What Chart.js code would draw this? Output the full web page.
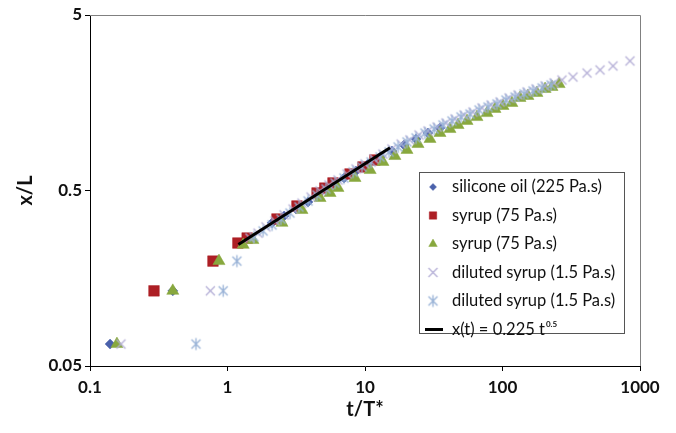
<!DOCTYPE html>
<html>
<head>
<meta charset="utf-8">
<script src="https://cdn.jsdelivr.net/npm/chart.js@4.4.1/dist/chart.umd.min.js"></script>
<style>
html,body{margin:0;padding:0;background:#fff;}
#wrap{width:676px;height:433px;}
</style>
</head>
<body>
<div id="wrap"><canvas id="c" width="676" height="433"></canvas></div>
<script>
// ---- data (t/T*, x/L) ----
const xTickValues = [0.1, 1, 10, 100, 1000];
const yTickValues = [0.05, 0.5, 5];

const seriesNames = [
  'silicone oil (225 Pa.s)',
  'syrup (75 Pa.s)',
  'syrup (75 Pa.s)',
  'diluted syrup (1.5 Pa.s)',
  'diluted syrup (1.5 Pa.s)'
];
const fitName = 'x(t) = 0.225 t';
const fitExponentLabel = '0.5';

const siliconeT = [0.14, 0.40, 2.11, 2.58, 3.15, 3.85, 4.71, 5.75, 7.04, 8.60, 10.5, 12.9, 15.7, 19.2, 23.5, 28.7, 35.1];
const siliconeX = [0.0667, 0.134, 0.327, 0.358, 0.392, 0.430, 0.490, 0.537, 0.589, 0.646, 0.708, 0.776, 0.840, 0.908, 0.983, 1.063, 1.135];

const syrupAT = [0.292, 0.784, 1.19, 1.39, 2.29, 3.20, 4.48, 5.10, 5.85, 7.78, 9.67, 11.8];
const syrupAX = [0.134, 0.198, 0.251, 0.268, 0.344, 0.408, 0.484, 0.516, 0.552, 0.621, 0.681, 0.746];

const syrupBT = [0.157, 0.40, 0.867, 1.30, 1.53, 2.49, 3.48, 4.71, 5.57, 6.36, 8.46, 10.9, 13.5, 16.5, 20.2, 24.3, 29.7, 35.1, 41.5, 47.5, 55.2, 65.2, 77.2, 88.2, 100.8, 117, 134, 153, 178, 204, 229, 258];
const syrupBX = [0.0667, 0.134, 0.198, 0.245, 0.261, 0.327, 0.387, 0.453, 0.484, 0.517, 0.589, 0.654, 0.727, 0.786, 0.851, 0.920, 0.983, 1.063, 1.12, 1.18, 1.245, 1.31, 1.38, 1.457, 1.515, 1.576, 1.683, 1.728, 1.798, 1.894, 1.944, 2.02];

const dilutedAT = [0.168, 0.75, 1.457, 1.667, 1.905, 2.216, 2.576, 2.995, 3.48, 4.05, 4.71, 5.47, 6.36, 7.40, 8.60, 10.0, 11.63, 13.5, 15.7, 18.3, 21.2, 24.7, 28.7, 33.4, 38.8, 45.1, 52.5, 61.0, 70.9, 82.5, 95.9, 111.5, 129.6, 150.7, 175.2, 203.8, 236.9, 270.8, 325.6, 411.8, 511.8, 636, 845.6];
const dilutedAX = [0.0667, 0.134, 0.268, 0.286, 0.310, 0.335, 0.363, 0.392, 0.424, 0.459, 0.497, 0.537, 0.574, 0.621, 0.663, 0.708, 0.756, 0.807, 0.862, 0.920, 0.970, 1.036, 1.091, 1.150, 1.212, 1.278, 1.346, 1.400, 1.476, 1.535, 1.597, 1.683, 1.751, 1.821, 1.894, 1.970, 2.049, 2.131, 2.216, 2.336, 2.430, 2.561, 2.735];

const dilutedBT = [0.59, 0.93, 1.17, 1.558, 1.813, 2.107, 2.449, 2.848, 3.311, 3.850, 4.476, 5.204, 6.050, 7.035, 8.180, 9.51, 11.06, 12.86, 14.95, 17.38, 20.2, 23.5, 27.3, 31.8, 36.9, 42.9, 49.9, 58.0, 67.5, 78.4, 91.2, 106.0, 123.3, 143.3, 166.6, 193.8, 225.3];
const dilutedBX = [0.0667, 0.134, 0.198, 0.272, 0.294, 0.318, 0.344, 0.372, 0.403, 0.436, 0.471, 0.510, 0.552, 0.589, 0.637, 0.681, 0.727, 0.776, 0.829, 0.885, 0.945, 0.996, 1.063, 1.120, 1.181, 1.245, 1.312, 1.364, 1.438, 1.495, 1.556, 1.639, 1.705, 1.774, 1.845, 1.919, 1.996];

const fitT = [1.2, 15.2];
const fitX = [0.246, 0.877];

// ---- styles ----
const pts = (ts, xs) => ts.map((t, i) => ({x: t, y: xs[i]}));

function markerCanvas(color, r, withVertical) {
  const s = Math.ceil(2 * r + 3);
  const c = document.createElement('canvas');
  c.width = s; c.height = s;
  const g = c.getContext('2d');
  const m = s / 2;
  g.strokeStyle = color; g.lineWidth = 1.3; g.lineCap = 'butt';
  const d = r * 0.75;
  g.beginPath();
  g.moveTo(m - d, m - d); g.lineTo(m + d, m + d);
  g.moveTo(m - d, m + d); g.lineTo(m + d, m - d);
  if (withVertical) { g.moveTo(m, m - r); g.lineTo(m, m + r); }
  g.stroke();
  return c;
}
const crossImg = markerCanvas('#b4aed6', 6, false);
const starImg = markerCanvas('#97b1d6', 6, true);

const styles = [
  {pointStyle: 'rectRot', radius: 5, bg: '#4a61ab', border: '#4a61ab', order: 5},
  {pointStyle: 'rect', radius: 7.5, bg: '#ad1f25', border: '#ad1f25', order: 4},
  {pointStyle: 'triangle', radius: 7, bg: '#88a83e', border: '#88a83e', order: 3},
  {pointStyle: crossImg, radius: 6, bg: '#b4aed6', border: '#b4aed6', order: 2},
  {pointStyle: starImg, radius: 6, bg: '#97b1d6', border: '#97b1d6', order: 1}
];
const seriesData = [pts(siliconeT, siliconeX), pts(syrupAT, syrupAX), pts(syrupBT, syrupBX), pts(dilutedAT, dilutedAX), pts(dilutedBT, dilutedBX)];

const datasets = seriesData.map((d, i) => ({
  type: 'scatter',
  label: seriesNames[i],
  data: d,
  pointStyle: styles[i].pointStyle,
  pointRadius: styles[i].radius,
  pointBackgroundColor: styles[i].bg,
  pointBorderColor: styles[i].border,
  pointBorderWidth: 0.5,
  showLine: false,
  order: styles[i].order
}));
datasets.push({
  type: 'line',
  label: fitName,
  data: pts(fitT, fitX),
  borderColor: '#000',
  borderWidth: 3,
  pointRadius: 0,
  fill: false,
  order: 0
});

const legendPlugin = {
  id: 'boxLegend',
  afterDraw(chart) {
    const ctx = chart.ctx;
    ctx.save();
    const bx = 419.5, by = 172.5, bw = 205, bh = 161;
    ctx.fillStyle = '#fff';
    ctx.fillRect(bx, by, bw, bh);
    ctx.strokeStyle = '#555';
    ctx.lineWidth = 1;
    ctx.strokeRect(bx, by, bw, bh);
    const mx = 433, tx = 452, y0 = 187, dy = 28.5;
    ctx.font = '16.5px Lato';
    ctx.textBaseline = 'middle';
    ctx.textAlign = 'left';
    for (let i = 0; i < seriesNames.length; i++) {
      const y = y0 + i * dy;
      const st = styles[i];
      ctx.fillStyle = st.bg; ctx.strokeStyle = st.border; ctx.lineWidth = 0.5;
      const r = typeof st.pointStyle === 'string' ? st.radius * 0.7 : st.radius * 0.85;
      Chart.helpers.drawPoint(ctx, {pointStyle: st.pointStyle, radius: r, rotation: 0, borderWidth: 0.5}, mx, y);
      ctx.fillStyle = '#111';
      ctx.fillText(seriesNames[i], tx, y);
    }
    const yl = y0 + seriesNames.length * dy;
    ctx.strokeStyle = '#000'; ctx.lineWidth = 3;
    ctx.beginPath(); ctx.moveTo(425, yl); ctx.lineTo(443, yl); ctx.stroke();
    ctx.fillStyle = '#111';
    ctx.fillText(fitName, tx, yl);
    const w = ctx.measureText(fitName).width;
    ctx.font = 'bold 8px Lato';
    ctx.fillText(fitExponentLabel, tx + w + 1, yl - 5);
    // plot area top & right border
    const a = chart.chartArea;
    ctx.strokeStyle = '#808080'; ctx.lineWidth = 1;
    ctx.beginPath();
    ctx.moveTo(a.left, a.top + 0.5); ctx.lineTo(a.right + 0.5, a.top + 0.5); ctx.lineTo(a.right + 0.5, a.bottom);
    ctx.stroke();
    ctx.restore();
  }
};

const bgPlugin = {
  id: 'bg',
  beforeDraw(chart) {
    const ctx = chart.ctx;
    ctx.save(); ctx.fillStyle = '#fff'; ctx.fillRect(0, 0, chart.width, chart.height); ctx.restore();
  }
};

new Chart(document.getElementById('c'), {
  data: {datasets},
  options: {
    responsive: false,
    animation: false,
    events: [],
    layout: {padding: {top: 15, right: 36, left: 0, bottom: 0}},
    plugins: {legend: {display: false}, tooltip: {enabled: false}},
    scales: {
      x: {
        type: 'logarithmic',
        min: 0.1, max: 1000,
        afterBuildTicks: s => { s.ticks = xTickValues.map(v => ({value: v})); },
        afterFit: s => { s.height = 67; },
        ticks: {
          autoSkip: false, maxRotation: 0, padding: 6,
          color: '#111',
          font: {family: 'Lato', size: 17, weight: 'bold'},
          callback: v => String(v)
        },
        grid: {display: true, drawOnChartArea: false, drawTicks: true, tickLength: 5, color: '#000'},
        border: {display: true, color: '#000', width: 1},
        title: {display: true, text: 't/T*', color: '#111', font: {family: 'Lato', size: 20, weight: 'bold'}, padding: {top: 0, bottom: 11}}
      },
      y: {
        type: 'logarithmic',
        min: 0.05, max: 5,
        afterBuildTicks: s => { s.ticks = yTickValues.map(v => ({value: v})); },
        afterFit: s => { s.width = 90; },
        ticks: {
          autoSkip: false, padding: 3,
          color: '#111',
          font: {family: 'Lato', size: 17, weight: 'bold'},
          callback: v => String(v)
        },
        grid: {display: true, drawOnChartArea: false, drawTicks: true, tickLength: 5, color: '#000'},
        border: {display: true, color: '#000', width: 1},
        title: {display: true, text: 'x/L', color: '#111', font: {family: 'Lato', size: 20, weight: 'bold'}, padding: {top: 14, bottom: 0}}
      }
    }
  },
  plugins: [bgPlugin, legendPlugin]
});
</script>
</body>
</html>
